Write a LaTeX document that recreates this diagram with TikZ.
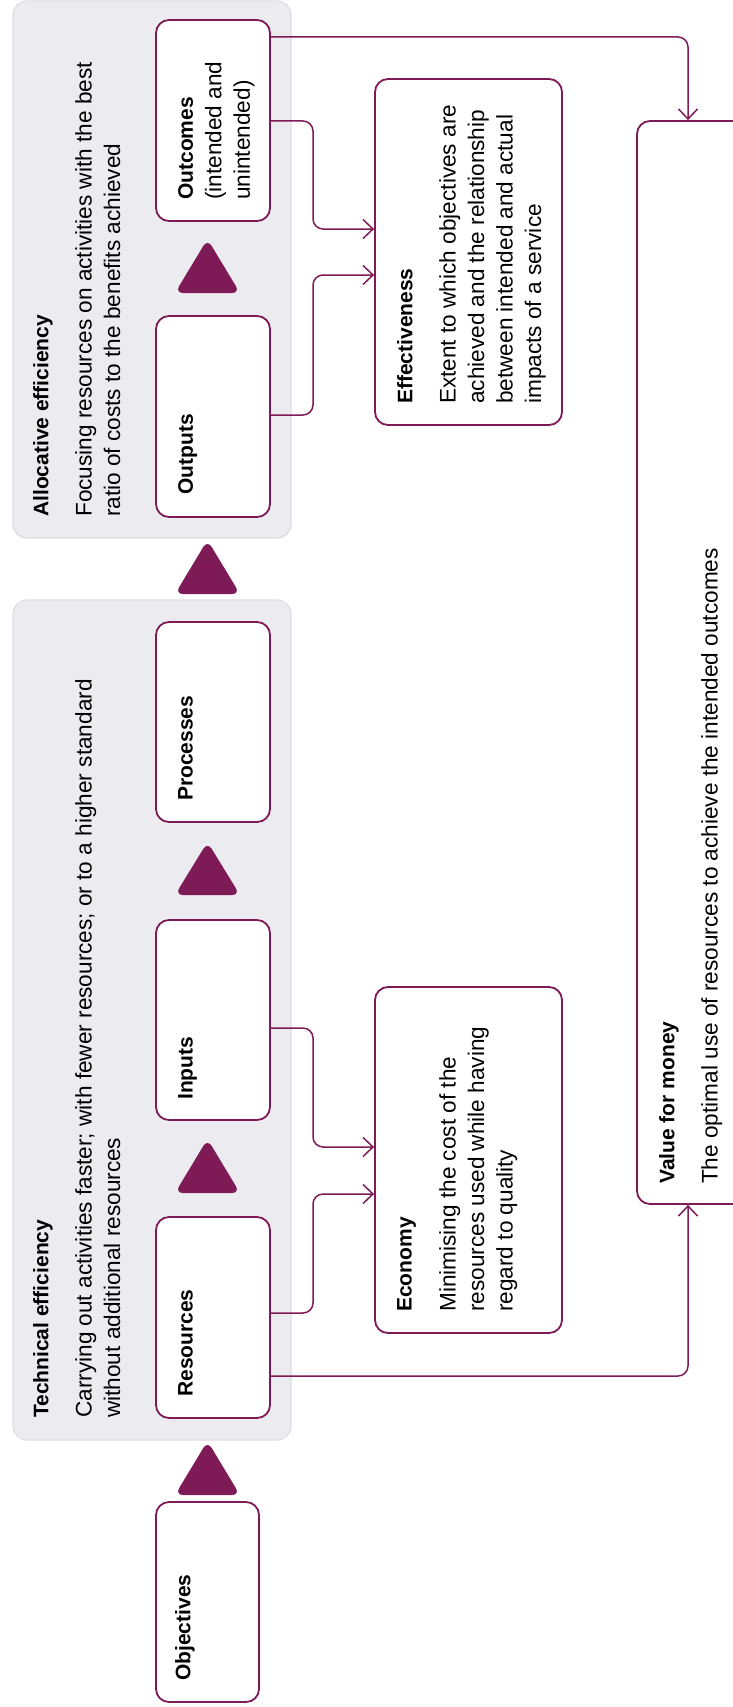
\documentclass[tikz,border=0pt]{standalone}
\usepackage{fontspec}
\setmainfont{Liberation Sans}
\usetikzlibrary{arrows.meta}
\definecolor{plum}{HTML}{7E1A56}
\definecolor{panelfill}{HTML}{ECEBF0}
\definecolor{panelline}{HTML}{DEDDE4}
\newcommand{\flowtri}[2]{\fill[plum, rounded corners=8pt] (207.5,#1-7) -- (240,#2+2) -- (175,#2+2) -- cycle;}
\begin{document}
\begin{tikzpicture}[x=1pt,y=-1pt,
  panel/.style={draw=panelline, fill=panelfill, line width=1.2pt, rounded corners=14pt, inner sep=0pt},
  stage/.style={draw=plum, fill=white, line width=1.8pt, rounded corners=13pt, inner sep=0pt},
  conn/.style={draw=plum, line width=1.5pt, rounded corners=10pt, -{Straight Barb[length=10pt,width=19pt]}},
  lbl/.style={rotate=90, anchor=north west, inner sep=0pt, align=left, font=\fontsize{22.6}{28.5}\selectfont},
  ttl/.style={rotate=90, anchor=north west, inner sep=0pt, font=\fontsize{21}{28}\selectfont\bfseries}
]
\useasboundingbox (0,0) rectangle (733,1707);
\clip (0,0) rectangle (733,1707);

% panels
\node[panel, minimum width=278pt, minimum height=537pt] (alloc) at (152,269.5) {};
\node[panel, minimum width=278pt, minimum height=840pt] (tech) at (152,1020) {};

% stage boxes
\node[stage, minimum width=114pt, minimum height=201pt] (outcomes) at (213,120.5) {};
\node[stage, minimum width=114pt, minimum height=201pt] (outputs) at (213,416.5) {};
\node[stage, minimum width=114pt, minimum height=200pt] (processes) at (213,722) {};
\node[stage, minimum width=114pt, minimum height=200pt] (inputs) at (213,1020) {};
\node[stage, minimum width=114pt, minimum height=201pt] (resources) at (213,1317.5) {};
\node[stage, minimum width=103pt, minimum height=200pt] (objectives) at (207.5,1602) {};
\node[stage, minimum width=187pt, minimum height=346pt] (effect) at (468.5,252) {};
\node[stage, minimum width=187pt, minimum height=346pt] (economy) at (468.5,1160) {};
\node[stage, minimum width=160pt, minimum height=1083pt] (vfm) at (717,662.5) {};

% flow triangles
\flowtri{246}{291}
\flowtri{547}{592}
\flowtri{849}{893}
\flowtri{1146}{1191}
\flowtri{1448}{1493}

% connectors
\draw[conn] (0,37 -| outcomes.east) -| (688,0 |- vfm.north);
\draw[conn] (0,121 -| outcomes.east) -- (313,121) |- (0,229 -| effect.west);
\draw[conn] (0,415 -| outputs.east) -- (313,415) |- (0,275 -| effect.west);
\draw[conn] (0,1028 -| inputs.east) -- (313,1028) |- (0,1147 -| economy.west);
\draw[conn] (0,1313 -| resources.east) -- (313,1313) |- (0,1194 -| economy.west);
\draw[conn] (0,1376 -| resources.east) -| (688,0 |- vfm.south);

% panel texts
\node[ttl] (allocT) at (33,517) {Allocative efficiency};
\node[lbl] (allocB) at (75,517) {Focusing resources on activities with the best\\ratio of costs to the benefits achieved};
\node[ttl] (techT) at (33,1418) {Technical efficiency};
\node[lbl] (techB) at (75,1418) {Carrying out activities faster; with fewer resources; or to a higher standard\\without additional resources};

% stage labels
\node[lbl] (outcomesL) at (178,200) {{\fontsize{21}{28.5}\selectfont\bfseries Outcomes}\\(intended and\\unintended)};
\node[ttl] (outputsL) at (178,495) {Outputs};
\node[ttl] (processesL) at (178,801) {Processes};
\node[ttl] (inputsL) at (178,1100) {Inputs};
\node[ttl] (resourcesL) at (178,1397) {Resources};
\node[ttl] (objectivesL) at (175,1681) {Objectives};

% effectiveness / economy / value for money
\node[ttl] (effectT) at (397,404) {Effectiveness};
\node[lbl] (effectB) at (439,404) {Extent to which objectives are\\achieved and the relationship\\between intended and actual\\impacts of a service};
\node[ttl] (economyT) at (397,1312) {Economy};
\node[lbl] (economyB) at (439,1312) {Minimising the cost of the\\resources used while having\\regard to quality};
\node[ttl] (vfmT) at (659,1184) {Value for money};
\node[lbl] (vfmB) at (701,1184) {The optimal use of resources to achieve the intended outcomes};
\end{tikzpicture}
\end{document}
